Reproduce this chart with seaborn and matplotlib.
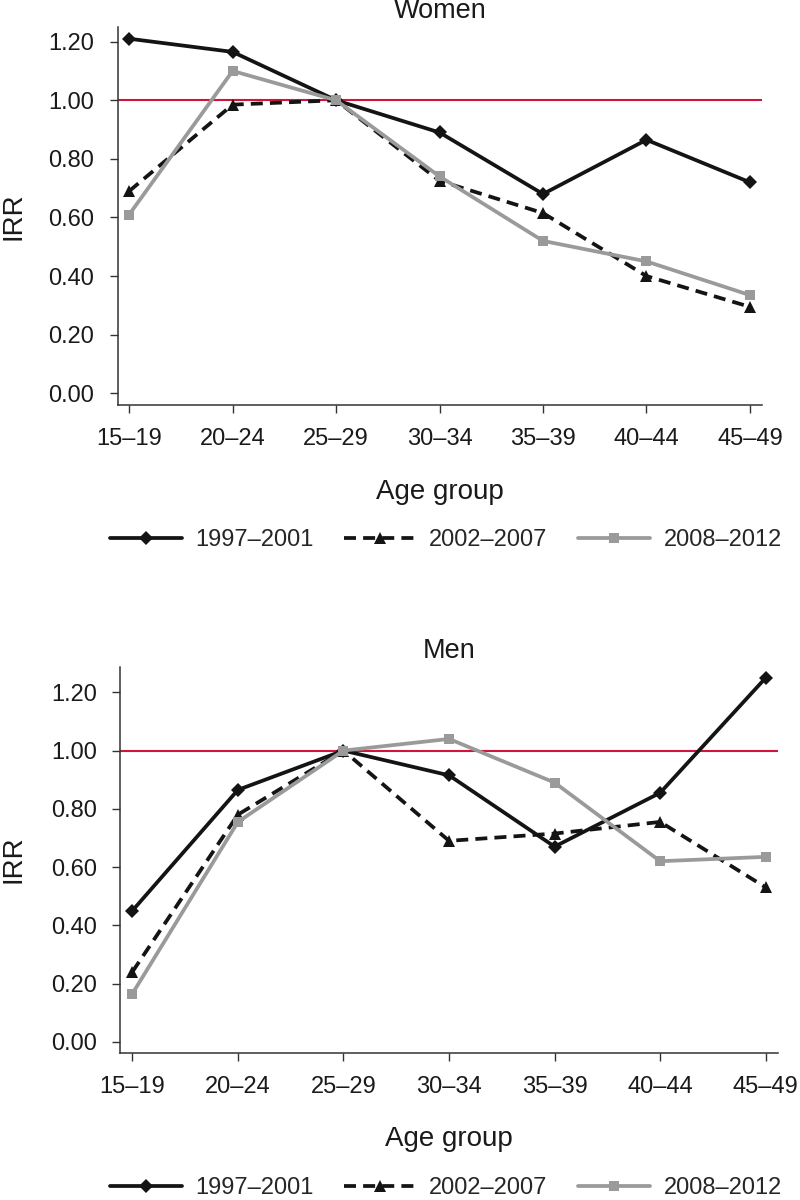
import numpy as np
import pandas as pd
import matplotlib
matplotlib.use('Agg')
from matplotlib import pyplot as plt
import seaborn as sns

# данные
ages = ['15–19', '20–24', '25–29', '30–34', '35–39', '40–44', '45–49']
periods = ['1997–2001', '2002–2007', '2008–2012']

women_1997 = [1.21, 1.165, 1.00, 0.89, 0.68, 0.865, 0.72]
women_2002 = [0.69, 0.985, 1.00, 0.725, 0.615, 0.40, 0.295]
women_2008 = [0.61, 1.10, 1.00, 0.74, 0.52, 0.45, 0.335]

men_1997 = [0.45, 0.865, 1.00, 0.915, 0.67, 0.855, 1.25]
men_2002 = [0.24, 0.78, 1.00, 0.69, 0.715, 0.755, 0.53]
men_2008 = [0.165, 0.755, 1.00, 1.04, 0.89, 0.62, 0.635]

yticks = [0.0, 0.2, 0.4, 0.6, 0.8, 1.0, 1.2]

sns.set_style('ticks')
plt.rcParams['font.family'] = ['Liberation Sans', 'DejaVu Sans']

line_styles = {
    '1997–2001': dict(color='#141414', marker='D', markersize=7.2, linestyle='-'),
    '2002–2007': dict(color='#141414', marker='^', markersize=8.5, linestyle=(0, (3.2, 1.9))),
    '2008–2012': dict(color='#9a9a9a', marker='s', markersize=7.2, linestyle='-'),
}


def make_df(v1, v2, v3):
    return pd.DataFrame({
        'age': ages * 3,
        'period': np.repeat(periods, len(ages)),
        'irr': v1 + v2 + v3,
    })


def draw_panel(ax, df, title, ylim, xlim, h_px):
    handles = []
    for p in periods:
        st = line_styles[p]
        sns.lineplot(data=df[df['period'] == p], x='age', y='irr', ax=ax,
                     color=st['color'], marker=st['marker'], markersize=st['markersize'],
                     linestyle=st['linestyle'], linewidth=2.7, markeredgewidth=0,
                     label=p, legend=False, sort=False, zorder=3)
        handles.append(ax.get_lines()[-1])
    ax.axhline(1.0, color='#d0143c', linewidth=1.5, zorder=2)

    ax.set_xlim(*xlim)
    ax.set_ylim(*ylim)
    ax.set_yticks(yticks)
    ax.set_yticklabels([f'{t:.2f}' for t in yticks])

    sns.despine(ax=ax)
    for s in ['left', 'bottom']:
        ax.spines[s].set_linewidth(1.1)
        ax.spines[s].set_color('#333333')
    ax.tick_params(axis='both', length=5.8, width=1.0, pad=11, labelsize=17,
                   color='#333333', labelcolor='#1a1a1a')

    ax.set_xlabel('Age group', fontsize=20, color='#1a1a1a')
    ax.xaxis.set_label_coords(0.5, -87 / h_px)
    ax.xaxis.label.set_va('center')
    ax.set_ylabel('IRR', fontsize=20, color='#1a1a1a')
    ax.yaxis.set_label_coords(-0.161, 0.5)
    ax.yaxis.label.set_va('center')

    ax.text(0.5, 1 + 16 / h_px, title, transform=ax.transAxes, ha='center',
            va='center', fontsize=19.5, color='#1a1a1a')
    return handles


fig = plt.figure(figsize=(8, 12), dpi=100)
ax_w = fig.add_axes([0.147, 0.6625, 0.8054, 0.315])
ax_m = fig.add_axes([0.15, 0.1229, 0.823, 0.3215])

h_w = draw_panel(ax_w, make_df(women_1997, women_2002, women_2008), 'Women',
                 (-0.040, 1.250), (-0.112, 6.116), 378)
h_m = draw_panel(ax_m, make_df(men_1997, men_2002, men_2008), 'Men',
                 (-0.037, 1.288), (-0.117, 6.12), 386)

for handles, y in [(h_w, 1 - 540 / 1200), (h_m, 1 - 1188 / 1200)]:
    fig.legend(handles, periods, loc='center', bbox_to_anchor=(0.5575, y), ncol=3,
               frameon=False, fontsize=17, handlelength=3.05, handletextpad=0.55,
               columnspacing=1.3, borderpad=0, borderaxespad=0)

fig.savefig('out.png', dpi=100)
